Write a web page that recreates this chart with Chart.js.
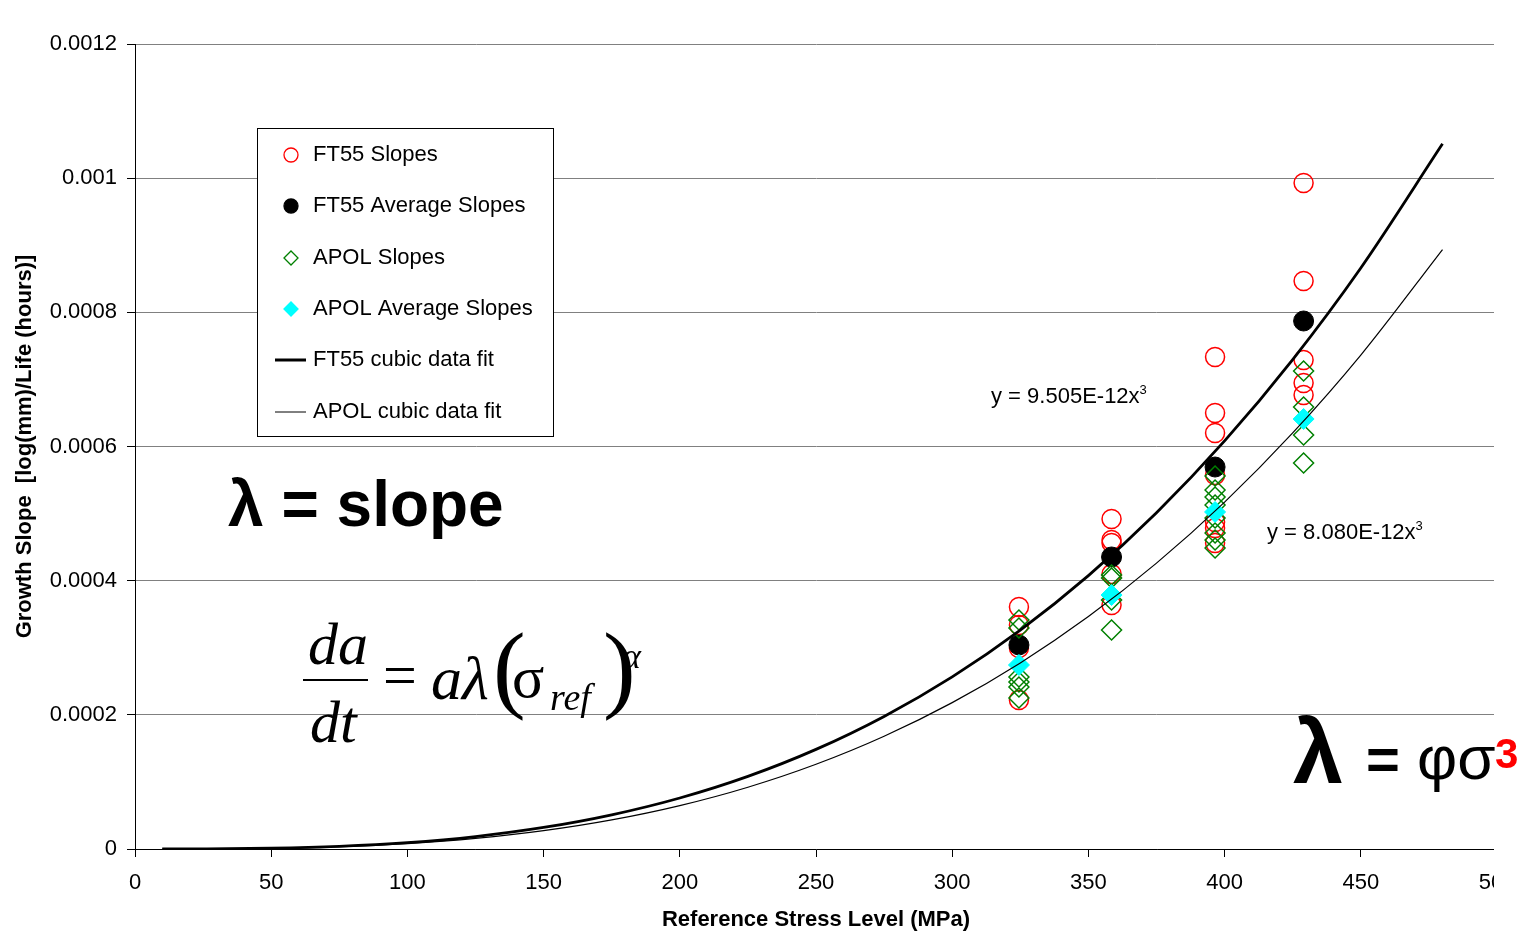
<!DOCTYPE html>
<html>
<head>
<meta charset="utf-8">
<script src="https://cdn.jsdelivr.net/npm/chart.js@4"></script>
<style>
  body { margin: 0; background: #fff; }
  #wrap { position: relative; width: 1529px; height: 933px; overflow: hidden; }
  #chart { position: absolute; left: 0; top: 0; }
  .note { position: absolute; white-space: nowrap; line-height: 1; color: #000; }
  .sans { font-family: "Liberation Sans", Arial, sans-serif; }
  .serif { font-family: "Liberation Serif", "Times New Roman", serif; }
  .sup { position: relative; font-size: 13px; top: -9px; }
</style>
</head>
<body>
<div id="wrap">
  <canvas id="chart" width="1529" height="933"></canvas>
  <!-- the original picture is cut off at the right edge of the plot -->
  <div style="position:absolute;left:1494px;top:0;width:40px;height:933px;background:#fff;"></div>

  <div class="note sans" style="left:991px;top:385px;font-size:22px;">y = 9.505E-12x<span class="sup">3</span></div>
  <div class="note sans" style="left:1267px;top:521px;font-size:22px;">y = 8.080E-12x<span class="sup">3</span></div>

  <div class="note sans" style="left:228px;top:472px;font-size:64px;font-weight:bold;">&lambda; = slope</div>

  <div class="note sans" style="left:1293px;top:707px;font-size:90px;font-weight:bold;">&lambda;</div>
  <div class="note sans" style="left:1366px;top:730px;font-size:58px;font-weight:bold;">=</div>
  <div class="note sans" style="left:1417px;top:727px;font-size:62px;">&phi;&sigma;</div>
  <div class="note sans" style="left:1495px;top:733px;font-size:42px;font-weight:bold;color:#ff0000;">3</div>

  <!-- da/dt = a lambda (sigma_ref)^alpha -->
  <div class="note serif" style="left:308px;top:614px;font-size:60px;font-style:italic;">da</div>
  <div style="position:absolute;left:303px;top:679px;width:65px;height:2px;background:#000;"></div>
  <div class="note serif" style="left:310px;top:692px;font-size:60px;font-style:italic;">dt</div>
  <div class="note serif" style="left:383px;top:645px;font-size:60px;">=</div>
  <div class="note serif" style="left:431px;top:647px;font-size:62px;font-style:italic;">a&lambda;</div>
  <div class="note serif" style="left:493px;top:618px;font-size:98px;">(</div>
  <div class="note serif" style="left:512px;top:647px;font-size:60px;">&sigma;</div>
  <div class="note serif" style="left:550px;top:678px;font-size:38px;font-style:italic;">ref</div>
  <div class="note serif" style="left:603px;top:618px;font-size:98px;">)</div>
  <div class="note serif" style="left:622px;top:638px;font-size:36px;font-style:italic;">&alpha;</div>
</div>
<script>
const ft55X = [324.5, 324.5, 324.5, 324.5,
    358.5, 358.5, 358.5, 358.5, 358.5,
    396.5, 396.5, 396.5, 396.5, 396.5, 396.5, 396.5,
    429, 429, 429, 429, 429];
const ft55Slopes = [0.0003607, 0.0003339, 0.0002996, 0.0002221,
    0.0004919, 0.0004606, 0.0004562, 0.0004099, 0.0003637,
    0.0007334, 0.0006499, 0.0006201, 0.0005575, 0.0004875, 0.0004785, 0.0004562,
    0.0009928, 0.0008467, 0.000729, 0.0006947, 0.0006768];

const avgX = [324.5, 358.5, 396.5, 429];
const ft55AvgSlopes = [0.0003041, 0.0004353, 0.0005694, 0.0007871];

const apolX = [324.5, 324.5, 324.5, 324.5, 324.5, 324.5,
    358.5, 358.5, 358.5, 358.5,
    396.5, 396.5, 396.5, 396.5, 396.5, 396.5, 396.5, 396.5,
    429, 429, 429, 429];
const apolSlopes = [0.0003414, 0.0003294, 0.0002564, 0.0002489, 0.0002415, 0.0002251,
    0.0004085, 0.000404, 0.0003712, 0.0003265,
    0.000556, 0.0005352, 0.0005247, 0.0005128, 0.0004934, 0.0004711, 0.0004606, 0.0004487,
    0.0007126, 0.0006589, 0.0006172, 0.0005754];
const apolAvgSlopes = [0.0002743, 0.0003786, 0.0005024, 0.000641];

// cubic fit curves (values as plotted)
const fitX = [10, 25, 50, 75, 100, 125, 150, 175, 200, 225, 250, 275, 300, 325, 350, 375, 400, 425, 450, 480];
const ft55Fit = [0.0000000095, 0.0000001485, 0.000001188, 0.00000401, 0.000009505, 0.000018565,
    0.00003208, 0.00005094, 0.00007604, 0.00010827, 0.00014852, 0.00019767, 0.00025664,
    0.00032629, 0.00040753, 0.00050124, 0.00060832, 0.00072966, 0.00086614, 0.00105118];
const apolFit = [0.00000000808, 0.00000012625, 0.00000101, 0.000003409, 0.00000808, 0.000015781,
    0.00002727, 0.000043304, 0.00006464, 0.000092036, 0.00012625, 0.00016804, 0.00021816,
    0.00027737, 0.00034643, 0.00042609, 0.00051712, 0.00062027, 0.00073629, 0.00089358];

const xTickValues = [0, 50, 100, 150, 200, 250, 300, 350, 400, 450, 500];
const xTickLabels = ['0', '50', '100', '150', '200', '250', '300', '350', '400', '450', '500'];
const yTickValues = [0, 0.0002, 0.0004, 0.0006, 0.0008, 0.001, 0.0012];
const yTickLabels = ['0', '0.0002', '0.0004', '0.0006', '0.0008', '0.001', '0.0012'];

const legendNames = ['FT55 Slopes', 'FT55 Average Slopes', 'APOL Slopes', 'APOL Average Slopes',
    'FT55 cubic data fit', 'APOL cubic data fit'];

const pts = (xs, ys) => ys.map((y, i) => ({ x: xs[i], y: y }));
const FONT = '"Liberation Sans", Arial, sans-serif';

// legend box drawn over the plot, like the original
const boxLegend = {
    id: 'boxLegend',
    afterDraw(chart) {
        const ctx = chart.ctx;
        const left = 257, top = 128, w = 296, h = 308;
        ctx.save();
        ctx.fillStyle = '#fff';
        ctx.fillRect(left, top, w, h);
        ctx.strokeStyle = '#000';
        ctx.lineWidth = 1;
        ctx.strokeRect(left + 0.5, top + 0.5, w, h);
        const rows = [155, 206, 258, 309, 360, 412];
        const styles = [
            { kind: 'point', pointStyle: 'circle', fill: null, stroke: '#ff0000' },
            { kind: 'point', pointStyle: 'circle', fill: '#000', stroke: '#000' },
            { kind: 'point', pointStyle: 'rectRot', fill: null, stroke: '#008000' },
            { kind: 'point', pointStyle: 'rectRot', fill: '#00ffff', stroke: '#00ffff' },
            { kind: 'line', width: 3 },
            { kind: 'line', width: 1 }
        ];
        rows.forEach((y, i) => {
            const s = styles[i];
            if (s.kind === 'point') {
                ctx.beginPath();
                ctx.lineWidth = 1.3;
                ctx.strokeStyle = s.stroke;
                ctx.fillStyle = s.fill || 'rgba(0,0,0,0)';
                Chart.helpers.drawPoint(ctx, { pointStyle: s.pointStyle, radius: 7, rotation: 0, borderWidth: 1.3 }, 291, y);
            } else {
                ctx.beginPath();
                ctx.strokeStyle = '#000';
                ctx.lineWidth = s.width;
                ctx.moveTo(275, y);
                ctx.lineTo(306, y);
                ctx.stroke();
            }
            ctx.fillStyle = '#000';
            ctx.font = '22px ' + FONT;
            ctx.textBaseline = 'middle';
            ctx.textAlign = 'left';
            ctx.fillText(legendNames[i], 313, y);
        });
        ctx.restore();
    }
};

const ctx = document.getElementById('chart').getContext('2d');
const slopeChart = new Chart(ctx, {
    type: 'scatter',
    data: {
        datasets: [
            {
                label: legendNames[4],
                data: pts(fitX, ft55Fit),
                showLine: true,
                borderColor: '#000',
                borderWidth: 2.8,
                pointRadius: 0,
                cubicInterpolationMode: 'monotone',
                order: 0
            },
            {
                label: legendNames[5],
                data: pts(fitX, apolFit),
                showLine: true,
                borderColor: '#000',
                borderWidth: 1.2,
                pointRadius: 0,
                cubicInterpolationMode: 'monotone',
                order: 0
            },
            {
                label: legendNames[3],
                data: pts(avgX, apolAvgSlopes),
                pointStyle: 'rectRot',
                pointRadius: 10.5,
                backgroundColor: '#00ffff',
                borderColor: '#00ffff',
                borderWidth: 1,
                order: 1
            },
            {
                label: legendNames[2],
                data: pts(apolX, apolSlopes),
                pointStyle: 'rectRot',
                pointRadius: 10,
                backgroundColor: 'rgba(0,0,0,0)',
                borderColor: '#008000',
                borderWidth: 1.5,
                order: 2
            },
            {
                label: legendNames[1],
                data: pts(avgX, ft55AvgSlopes),
                pointStyle: 'circle',
                pointRadius: 10,
                backgroundColor: '#000',
                borderColor: '#000',
                borderWidth: 1,
                order: 3
            },
            {
                label: legendNames[0],
                data: pts(ft55X, ft55Slopes),
                pointStyle: 'circle',
                pointRadius: 9.5,
                backgroundColor: 'rgba(0,0,0,0)',
                borderColor: '#ff0000',
                borderWidth: 1.5,
                order: 4
            }
        ]
    },
    options: {
        responsive: false,
        animation: false,
        layout: { padding: { left: 0, right: 32, top: 44, bottom: 0 } },
        plugins: {
            legend: { display: false },
            tooltip: { enabled: false }
        },
        scales: {
            x: {
                type: 'linear',
                min: 0,
                max: 500,
                afterBuildTicks: s => { s.ticks = xTickValues.map(v => ({ value: v })); },
                afterFit: s => { s.height = 84; },
                ticks: {
                    color: '#000',
                    font: { family: FONT, size: 22 },
                    padding: 13,
                    maxRotation: 0,
                    callback: (v, i) => xTickLabels[i]
                },
                grid: { drawOnChartArea: false, tickColor: '#000', tickLength: 8 },
                border: { color: '#000', width: 1 },
                title: {
                    display: true,
                    text: 'Reference Stress Level (MPa)',
                    color: '#000',
                    font: { family: FONT, size: 22, weight: 'bold' },
                    padding: { top: 0, bottom: 0 }
                }
            },
            y: {
                type: 'linear',
                min: 0,
                max: 0.0012,
                afterBuildTicks: s => { s.ticks = yTickValues.map(v => ({ value: v })); },
                afterFit: s => { s.width = 135; },
                ticks: {
                    color: '#000',
                    font: { family: FONT, size: 22 },
                    padding: 10,
                    callback: (v, i) => yTickLabels[i]
                },
                grid: { color: '#808080', lineWidth: 1, tickColor: '#000', tickLength: 8 },
                border: { color: '#000', width: 1 },
                title: {
                    display: true,
                    text: 'Growth Slope  [log(mm)/Life (hours)]',
                    color: '#000',
                    font: { family: FONT, size: 22, weight: 'bold' },
                    padding: { top: 12, bottom: 0 }
                }
            }
        }
    },
    plugins: [boxLegend]
});
</script>
</body>
</html>
